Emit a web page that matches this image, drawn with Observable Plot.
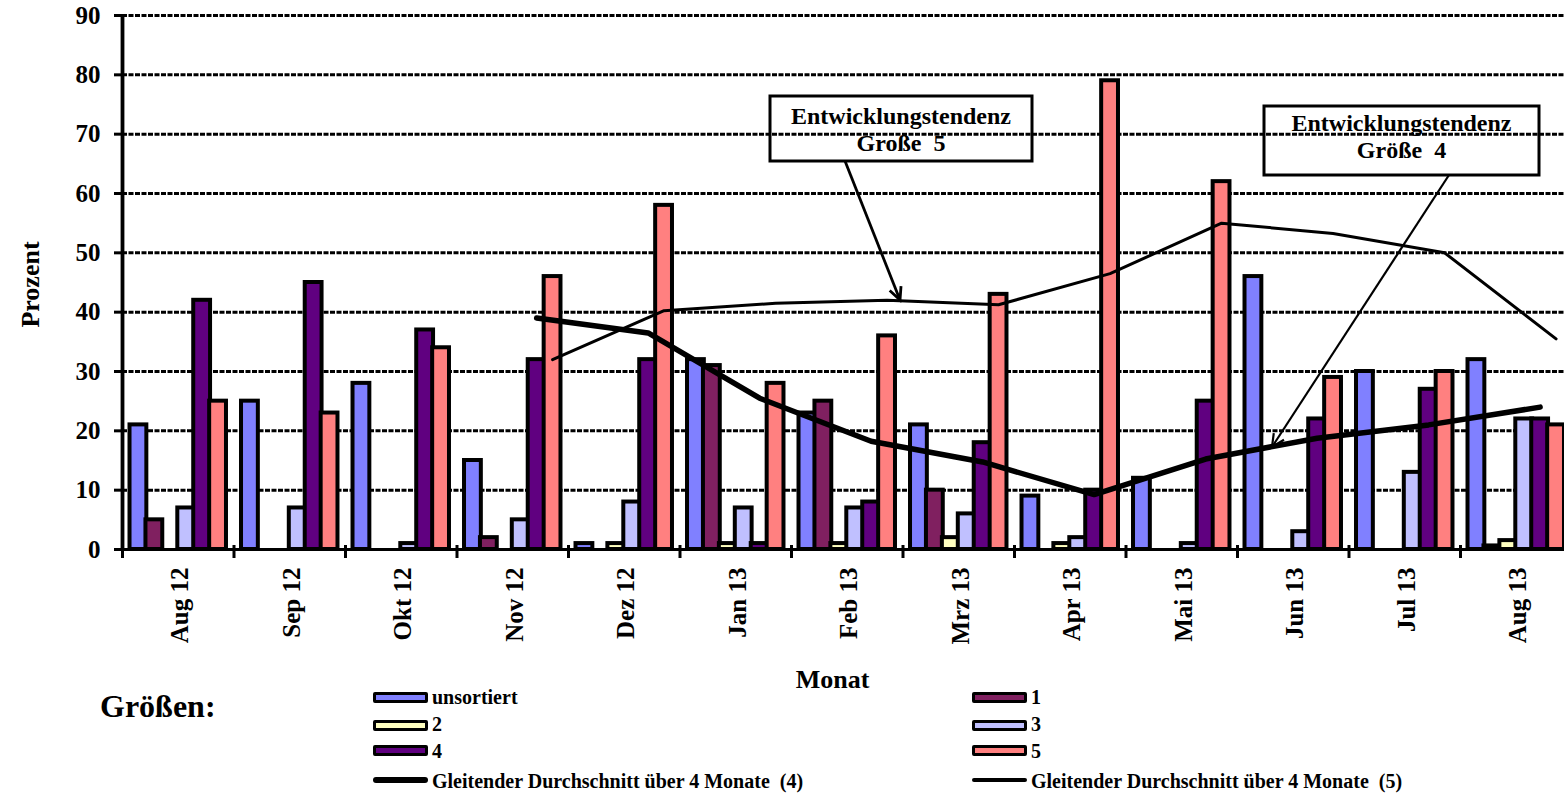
<!DOCTYPE html>
<html>
<head>
<meta charset="utf-8">
<script src="https://cdn.jsdelivr.net/npm/d3@7"></script>
<script src="https://cdn.jsdelivr.net/npm/@observablehq/plot@0.6"></script>
<style>
html,body{margin:0;padding:0;background:#fff;overflow:hidden;width:1564px;height:796px;}
#wrap{position:relative;width:1564px;height:796px;font-family:"Liberation Serif","Times New Roman",serif;font-weight:bold;color:#000;}
#chart{position:absolute;left:0;top:0;}
.lg{position:absolute;font-size:20px;line-height:20px;white-space:pre;}
.sw{position:absolute;width:49px;height:5px;border:3px solid #000;border-radius:2px;}
.ln{position:absolute;width:55px;background:#000;border-radius:4px;}
#title{position:absolute;left:100px;top:690px;font-size:32px;line-height:32px;}
</style>
</head>
<body>
<div id="wrap"><div id="chart"></div></div>
<script>
// ---- data ----
const months = ["Aug 12","Sep 12","Okt 12","Nov 12","Dez 12","Jan 13","Feb 13","Mrz 13","Apr 13","Mai 13","Jun 13","Jul 13","Aug 13"];
const seriesNames = ["unsortiert","1","2","3","4","5"];
const unsortiert = [21,25,28,15,1,32,23,21,9,12,46,30,32];
const size1 = [5,0,0,2,0,31,25,10,0,0,0,0,0.6];
const size2 = [0,0,0,0,1,1,1,2,1,0,0,0,1.5];
const size3 = [7,7,1,5,8,7,7,6,2,1,3,13,22];
const size4 = [42,45,37,32,32,1,8,18,10,25,22,27,22];
const size5 = [25,23,34,46,58,28,36,43,79,62,29,30,21];
const avgMonths = ["Nov 12","Dez 12","Jan 13","Feb 13","Mrz 13","Apr 13","Mai 13","Jun 13","Jul 13","Aug 13"];
const avg4 = [39,36.5,25.5,18.25,14.75,9.25,15.25,18.75,21,24];
const avg5 = [32,40.25,41.5,42,41.25,46.5,55,53.25,50,35.5];
const yTicks = [0,10,20,30,40,50,60,70,80,90];
const colors = ["#8080ff","#802060","#ffffc0","#c0c0ff","#600080","#ff8080"];
const legendLabels = ["unsortiert","1","2","3","4","5"];
const lineLabels = ["Gleitender Durchschnitt über 4 Monate  (4)","Gleitender Durchschnitt über 4 Monate  (5)"];

// ---- build tables ----
const seriesValues = [unsortiert,size1,size2,size3,size4,size5];
const bars = [];
months.forEach((m,i) => seriesNames.forEach((s,j) => {
  const v = seriesValues[j][i];
  if (v > 0) bars.push({month:m, series:s, value:v});
}));
const keys = [];
months.forEach(m => { keys.push(m+"|gap"); seriesNames.forEach(s => keys.push(m+"|"+s)); });
keys.push("end|gap");
const boundaries = months.map(m => m+"|gap").concat(["end|gap"]);
const line4 = avgMonths.map((m,i) => ({month:m, value:avg4[i]}));
const line5 = avgMonths.map((m,i) => ({month:m, value:avg5[i]}));

const monthWidth = 111.5;
const bw = monthWidth/7;
const x0 = 122 - bw/2;
const font = "'Liberation Serif','Times New Roman',serif";

const plot = Plot.plot({
  width: 1564, height: 690,
  marginLeft: 122, marginRight: 0, marginTop: 15, marginBottom: 141,
  style: {fontFamily: font, fontWeight: "bold", fontSize: "25px", color: "#000", background: "transparent", overflow: "visible", maxWidth: "none"},
  x: {type: "band", domain: keys, range: [x0, x0 + keys.length*bw], paddingInner: 0, paddingOuter: 0, axis: null},
  y: {domain: [0, 90], axis: null},
  color: {domain: seriesNames, range: colors},
  marks: [
    Plot.gridY(yTicks.filter(t => t > 0), {stroke: "#000", strokeOpacity: 1, strokeWidth: 3, strokeDasharray: "5,1.5"}),
    Plot.barY(bars, {x: d => d.month+"|"+d.series, y: "value", fill: "series", stroke: "#000", strokeWidth: 4, strokeLinejoin: "miter", insetLeft: -0.45, insetRight: -0.45}),
    Plot.ruleY([0], {stroke: "#000", strokeWidth: 2.8}),
    Plot.ruleX(boundaries, {x: d => d, y1: 0, y2: 0, insetTop: -4, insetBottom: -9, stroke: "#000", strokeWidth: 3}),
    Plot.ruleX([boundaries[0]], {x: d => d, y1: 0, y2: 90, stroke: "#000", strokeWidth: 3.8}),
    Plot.axisY({ticks: yTicks, tickSize: 8, tickPadding: 14, tickFormat: d => String(d), strokeWidth: 3, fontSize: 25, fontWeight: "bold", label: null}),
    Plot.line(line5, {x: d => d.month+"|5", y: "value", stroke: "#000", strokeWidth: 3}),
    Plot.line(line4, {x: d => d.month+"|4", y: "value", stroke: "#000", strokeWidth: 5.5}),
    Plot.text(months, {x: d => d+"|2", y: () => 0, text: d => d, rotate: -90, textAnchor: "end", lineAnchor: "middle", dx: bw/2 + 2, dy: 18, fontSize: 25, fontWeight: "bold", fill: "#000"}),
    Plot.text(["Prozent"], {frameAnchor: "left", text: d => d, rotate: -90, textAnchor: "middle", lineAnchor: "middle", dx: -92, dy: 2, fontSize: 26, fontWeight: "bold", fill: "#000"}),
    Plot.text(["Monat"], {frameAnchor: "bottom", text: d => d, textAnchor: "middle", lineAnchor: "middle", dx: -11, dy: 130, fontSize: 26, fontWeight: "bold", fill: "#000"})
  ]
});
document.getElementById("chart").appendChild(plot);

// ---- callouts ----
const svg = d3.select(plot);
function callout(bx, by, bw2, bh, lines, baselines, from, to, w) {
  const g = svg.append("g");
  g.append("rect").attr("x", bx).attr("y", by).attr("width", bw2).attr("height", bh)
    .attr("fill", "none").attr("stroke", "#000").attr("stroke-width", 3);
  lines.forEach((t, i) => g.append("text").attr("x", bx + bw2/2).attr("y", baselines[i])
    .attr("text-anchor", "middle").attr("font-size", 24).attr("font-weight", "bold")
    .attr("font-family", font).attr("fill", "#000").attr("xml:space", "preserve").style("white-space", "pre").text(t));
  const [x1, y1] = from, [x2, y2] = to;
  const a = Math.atan2(y2 - y1, x2 - x1), L = 14, s = 0.45;
  g.append("line").attr("x1", x1).attr("y1", y1).attr("x2", x2).attr("y2", y2).attr("stroke", "#000").attr("stroke-width", w);
  g.append("path").attr("d", `M${x2 - L*Math.cos(a - s)},${y2 - L*Math.sin(a - s)}L${x2},${y2}L${x2 - L*Math.cos(a + s)},${y2 - L*Math.sin(a + s)}`)
    .attr("fill", "none").attr("stroke", "#000").attr("stroke-width", w);
}
callout(770, 96, 262, 65, ["Entwicklungstendenz", "Große  5"], [124, 151], [845, 161], [900, 300], 2.8);
callout(1264, 106, 275, 69, ["Entwicklungstendenz", "Größe  4"], [131, 158], [1449, 175], [1272, 447], 2.2);

// ---- legend ----
const wrap = document.getElementById("wrap");
const t = document.createElement("div"); t.id = "title"; t.textContent = "Größen:"; wrap.appendChild(t);
const rowsSw = [697, 725, 750];
const rowsBase = [704, 731, 758];
legendLabels.forEach((lab, i) => {
  const col = i % 2, row = Math.floor(i / 2);
  const left = col ? 972 : 373;
  const sw = document.createElement("div"); sw.className = "sw";
  sw.style.left = left + "px"; sw.style.top = (rowsSw[row] - 5.5) + "px"; sw.style.background = colors[i];
  wrap.appendChild(sw);
  const tx = document.createElement("div"); tx.className = "lg"; tx.textContent = lab;
  tx.style.left = (left + 59) + "px"; tx.style.top = (rowsBase[row] - 16.8) + "px";
  wrap.appendChild(tx);
});
lineLabels.forEach((lab, i) => {
  const left = i ? 972 : 373;
  const ln = document.createElement("div"); ln.className = "ln";
  const h = i ? 4 : 6;
  ln.style.left = left + "px"; ln.style.height = h + "px"; ln.style.top = (780 - h/2) + "px";
  wrap.appendChild(ln);
  const tx = document.createElement("div"); tx.className = "lg"; tx.textContent = lab;
  tx.style.left = (left + 59) + "px"; tx.style.top = (788 - 16.8) + "px";
  wrap.appendChild(tx);
});
</script>
</body>
</html>
